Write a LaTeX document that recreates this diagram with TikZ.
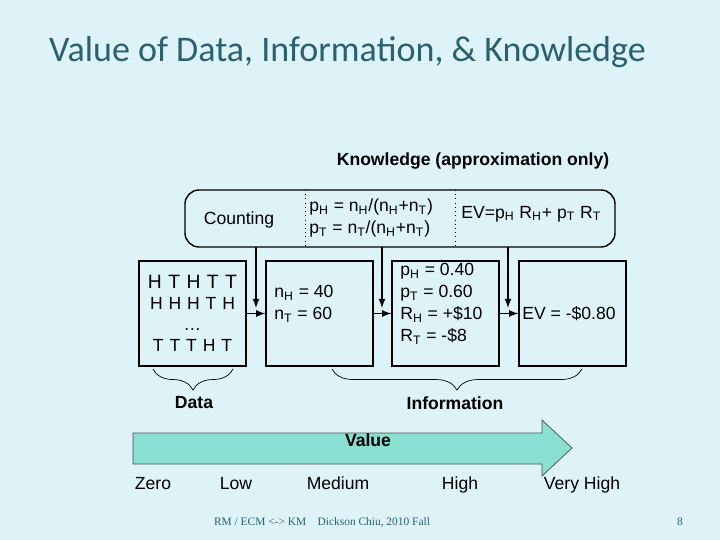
\documentclass[tikz,border=0pt]{standalone}
\usepackage{fontspec}
\setmainfont{Liberation Sans}
\newfontfamily\titlefont{Carlito}
\newfontfamily\footfont{Liberation Serif}
\usetikzlibrary{positioning,decorations.pathreplacing}
\definecolor{slidebg}{HTML}{DDF3F7}
\definecolor{titleteal}{HTML}{2A6170}
\definecolor{arrowfill}{HTML}{88DFD2}
\newcommand{\lo}[1]{\textsubscript{#1}}
\tikzset{
  txt/.style={font=\fontsize{10}{12.5}\selectfont, inner sep=0pt},
  valbox/.style={draw, thick, minimum width=107*0.02cm, minimum height=105*0.02cm, inner sep=0pt},
  flow/.style={thick, -latex},
  brace/.style={decorate, decoration={brace, mirror, amplitude=12pt}}
}
\begin{document}
\begin{tikzpicture}[x=0.02cm, y=-0.02cm]
	 \fill[slidebg] (0, 0) rectangle (720, 540);
	 \useasboundingbox (0, 0) rectangle (720, 540);
	 
	 \node[anchor = west, text = titleteal, font = \titlefont\fontsize{20.5}{24}\selectfont] (title) at (43, 52) {Value of Data, Information, \& Knowledge};
	 \node[txt, font = \bfseries\fontsize{10}{12}\selectfont] (know) at (473, 161) {Knowledge (approximation only)};
	 
	 % knowledge box
	 \draw[thick, rounded corners = 8] (185, 190) rectangle (615, 247);
	 \draw[dotted] (305, 190) -- (305, 247);
	 \draw[dotted] (455, 190) -- (455, 247);
	 \node[txt] (count) at (239, 220) {Counting};
	 \node[txt, anchor = west, align = left] (prob) at (309, 218) {p\lo{H} = n\lo{H}/(n\lo{H}+n\lo{T})\\p\lo{T} = n\lo{T}/(n\lo{H}+n\lo{T})};
	 \node[txt, anchor = west] (evf) at (461, 214) {EV=p\lo{H} R\lo{H}+ p\lo{T} R\lo{T}};
	 
	 % four boxes
	 \node[valbox, align = center] (data) at (192.5, 313.5) {\fontsize{11}{12.5}\selectfont H\,\,T\,\,H\,\,T\,\,T\\H\,\,H\,\,H\,\,T\,\,H\\\dots\\T\,\,T\,\,T\,\,H\,\,T};
	 \node[valbox] (counts) at (319.5, 313.5) {};
	 \node[txt, anchor = west, align = left] at (274, 304) {n\lo{H} = 40\\n\lo{T} = 60};
	 \node[valbox] (probs) at (445.5, 313.5) {};
	 \node[txt, anchor = west, align = left] at (400, 304) {p\lo{H} = 0.40\\p\lo{T} = 0.60\\R\lo{H} = +\$10\\R\lo{T} = -\$8};
	 \node[valbox] (ev) at (572.5, 313.5) {};
	 \node[txt, anchor = west] at (522, 314) {EV = -\$0.80};
	 
	 \draw[flow] (data) -- (counts);
	 \draw[flow] (counts) -- (probs);
	 \draw[flow] (probs) -- (ev);
	 \draw[flow] (256, 247) -- (256, 308);
	 \draw[flow] (382, 247) -- (382, 308);
	 \draw[flow] (508, 247) -- (508, 308);
	 
	 % braces
	 \draw[brace] (153, 369) -- (233, 369);
	 \draw[brace] (332, 369) -- (582, 369);
	 \node[txt, font = \bfseries\fontsize{10}{12}\selectfont] (datal) at (194, 403) {Data};
	 \node[txt, font = \bfseries\fontsize{10}{12}\selectfont] (infol) at (455, 403) {Information};
	 
	 % value arrow
	 \draw[fill = arrowfill, draw = black!70] (133, 433) -- (542, 433) -- (542, 420) -- (572, 448) -- (542, 476) -- (542, 464) -- (133, 464) -- cycle;
	 \node[txt, font = \bfseries\fontsize{10}{12}\selectfont] (value) at (368, 440) {Value};
	 \foreach \x/\lab in {153/Zero, 236/Low, 338/Medium, 460/High, 582/Very High}
	 \node[txt, anchor = base] at (\x, 489) {\lab};
	 
	 \node[txt, text = titleteal, font = \footfont\fontsize{6.5}{8}\selectfont] (foot) at (322, 522) {RM / ECM <-> KM\quad Dickson Chiu, 2010 Fall};
	 \node[txt, text = titleteal, font = \footfont\fontsize{6.5}{8}\selectfont] (page) at (680, 522) {8};
\end{tikzpicture}
\end{document}
